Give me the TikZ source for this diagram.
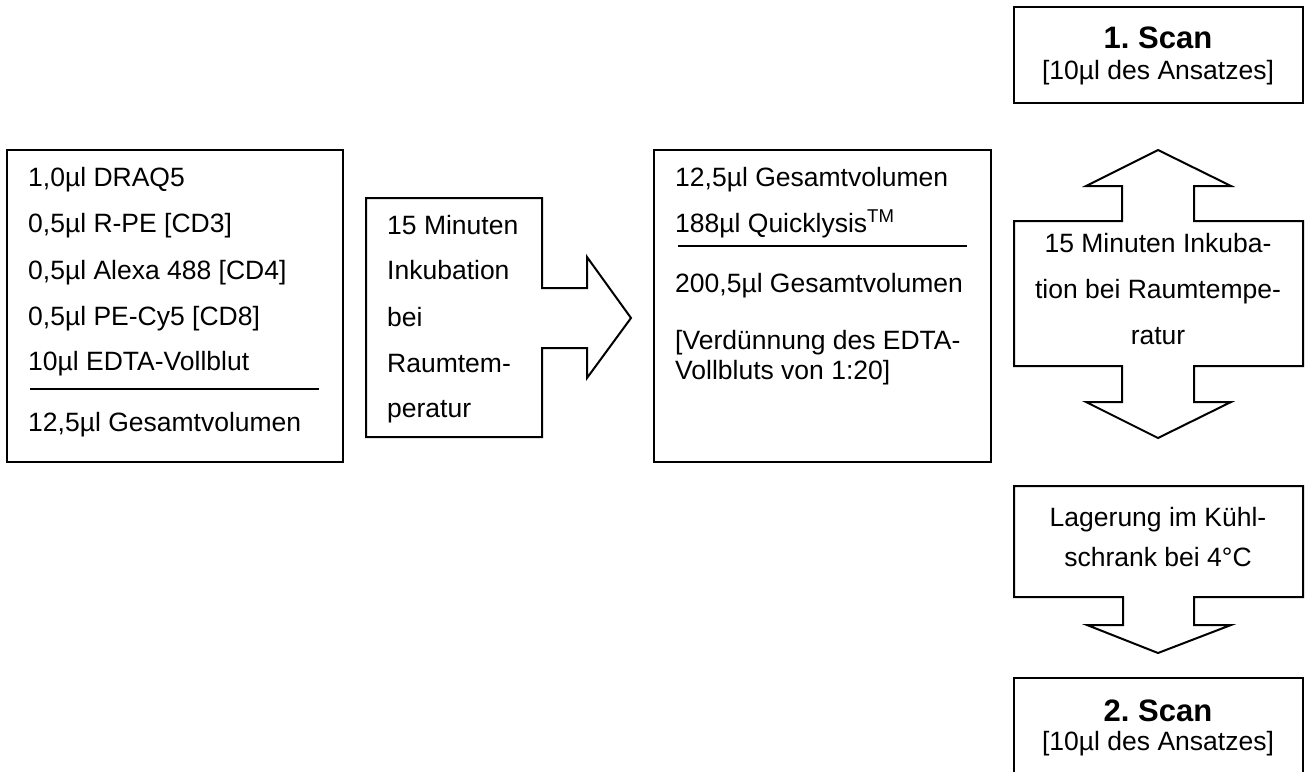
\documentclass[tikz,border=0pt]{standalone}
\usepackage{fontspec}
\setmainfont{Liberation Sans}
\frenchspacing
\tikzset{
    rahmen/.style={draw, line width=2pt, line join=miter},
    zeile/.style={anchor=base west, inner sep=0pt, font=\fontsize{26.5pt}{30pt}\selectfont},
    mitte/.style={anchor=base, inner sep=0pt, font=\fontsize{26.5pt}{30pt}\selectfont},
    titel/.style={anchor=base, inner sep=0pt, font=\fontsize{31pt}{34pt}\selectfont\bfseries},
}
\begin{document}
\begin{tikzpicture}[x=1pt, y=-1pt]
    \useasboundingbox (0,0) rectangle (1306,772);
    % 左: 样品配方
                                        \draw[rahmen] (7,150) rectangle (343,462); % 方框
                                        \node[zeile] (draq) at (28,186) {1,0µl DRAQ5};
                                        \node[zeile] (rpe) at (28,232) {0,5µl R-PE [CD3]};
                                        \node[zeile] (alexa) at (28,279) {0,5µl Alexa 488 [CD4]};
                                        \node[zeile] (pecy) at (28,325) {0,5µl PE-Cy5 [CD8]};
                                        \node[zeile] (blut) at (28,370) {10µl EDTA-Vollblut};
                                        \draw[line width=2pt] (30,389) -- (319,389); % 分隔线
                                        \node[zeile] (summe) at (28,431) {12,5µl Gesamtvolumen};
    % 右箭头框: 孵育
                                        \draw[rahmen] (366,198) -- (542,198) -- (542,288) -- (587,288) -- (587,257) -- (631,318)
                                            -- (587,378) -- (587,348) -- (542,348) -- (542,437) -- (366,437) -- cycle;
                                        \node[zeile] (ink1) at (387,234) {15 Minuten};
                                        \node[zeile] (ink2) at (387,279) {Inkubation};
                                        \node[zeile] (ink3) at (387,326) {bei};
                                        \node[zeile] (ink4) at (387,372) {Raumtem-};
                                        \node[zeile] (ink5) at (387,417) {peratur};
    % 中: 裂解
                                        \draw[rahmen] (654,150) rectangle (991,462); % 方框
                                        \node[zeile] (vol) at (675,186) {12,5µl Gesamtvolumen};
                                        \node[zeile] (lyse) at (675,232) {188µl Quicklysis\textsuperscript{TM}};
                                        \draw[line width=2pt] (678,246) -- (967,246); % 分隔线
                                        \node[zeile] (gesamt) at (675,292) {200,5µl Gesamtvolumen};
                                        \node[zeile] (verd1) at (675,349) {[Verdünnung des EDTA-};
                                        \node[zeile] (verd2) at (675,379) {Vollbluts von 1:20]};
    % 右列: 扫描
                                        \draw[rahmen] (1014,7) rectangle (1303,103); % 第一次扫描
                                        \node[titel] (scan1) at (1158,48) {1. Scan};
                                        \node[mitte] (probe1) at (1158,79) {[10µl des Ansatzes]};
                                        \draw[rahmen] (1014,221) -- (1122,221) -- (1122,186) -- (1086,186) -- (1158,150) -- (1231,186)
                                            -- (1194,186) -- (1194,221) -- (1303,221) -- (1303,366) -- (1194,366) -- (1194,402)
                                            -- (1231,402) -- (1158,438) -- (1086,402) -- (1122,402) -- (1122,366) -- (1014,366) -- cycle; % 双向箭头
                                        \node[mitte] (zeit1) at (1158,252) {15 Minuten Inkuba-};
                                        \node[mitte] (zeit2) at (1158,298) {tion bei Raumtempe-};
                                        \node[mitte] (zeit3) at (1158,344) {ratur};
                                        \draw[rahmen] (1014,486) -- (1303,486) -- (1303,597) -- (1194,597) -- (1194,625) -- (1231,625)
                                            -- (1158,653) -- (1087,625) -- (1123,625) -- (1123,597) -- (1014,597) -- cycle; % 向下箭头
                                        \node[mitte] (kuehl1) at (1158,526) {Lagerung im Kühl-};
                                        \node[mitte] (kuehl2) at (1158,566) {schrank bei 4°C};
                                        \draw[rahmen] (1014,772) -- (1014,678) -- (1303,678) -- (1303,772); % 第二次扫描
                                        \node[titel] (scan2) at (1158,721) {2. Scan};
                                        \node[mitte] (probe2) at (1158,750) {[10µl des Ansatzes]};
\end{tikzpicture}
\end{document}
